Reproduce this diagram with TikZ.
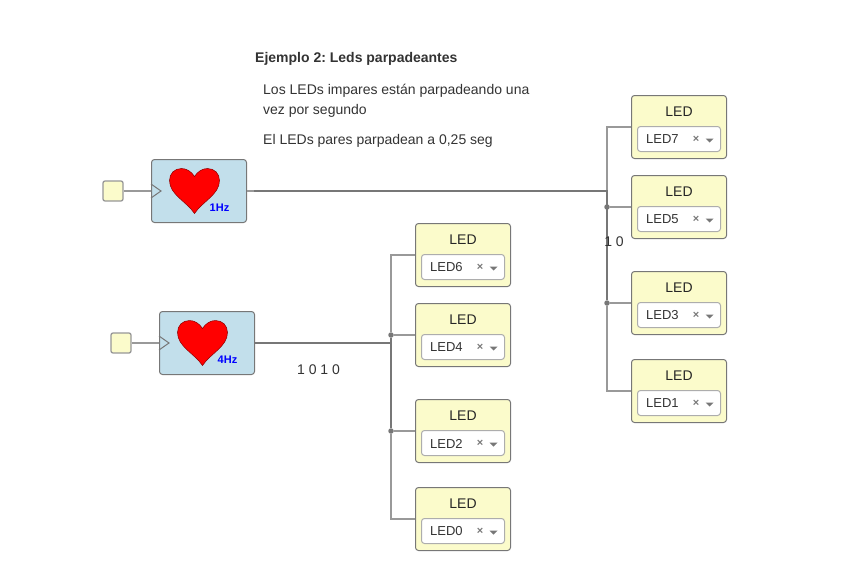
\documentclass[tikz,border=0pt]{standalone}
\usepackage{fontspec}
\setmainfont{Liberation Sans}
\usetikzlibrary{positioning}
\definecolor{boxline}{HTML}{777777}
\definecolor{ledfill}{HTML}{FBFBCB}
\definecolor{clkfill}{HTML}{C2DFEB}
\definecolor{wirea}{HTML}{999999}
\definecolor{wireb}{HTML}{777777}
\definecolor{inkgray}{HTML}{333333}
\tikzset{
  ledbox/.style={draw=boxline, line width=1pt, fill=ledfill, rounded corners=3pt, minimum width=95pt, minimum height=63pt, inner sep=0pt},
  selbox/.style={draw=wirea!80, line width=1pt, fill=white, rounded corners=3pt, minimum width=83pt, minimum height=25pt, inner sep=0pt},
  clkbox/.style={draw=boxline, line width=1pt, fill=clkfill, rounded corners=3pt, minimum width=95pt, minimum height=63pt, inner sep=0pt},
  inbox/.style={draw=wirea!70!black!70, line width=1.3pt, fill=ledfill, rounded corners=2pt, minimum size=20pt, inner sep=0pt},
  wire/.style={draw=wirea, line width=1.5pt},
  bus/.style={draw=wireb, line width=1.5pt},
  joint/.style={circle, fill=wireb, minimum size=5.5pt, inner sep=0pt},
  txt/.style={text=inkgray, font=\fontsize{14}{16}\selectfont, inner sep=0pt},
  freq/.style={text=blue, font=\fontsize{11}{12}\selectfont\bfseries, inner sep=0pt},
  heart/.pic={
    \draw[fill=red, draw=red!55!black, line width=.5pt]
    (0,8) .. controls (3,3) and (8,0) .. (13,0) .. controls (20,0) and (25,5) .. (25,12)
    .. controls (25,26) and (8,33) .. (0,45) .. controls (-8,33) and (-25,26) .. (-25,12)
    .. controls (-25,5) and (-20,0) .. (-13,0) .. controls (-8,0) and (-3,3) .. (0,8) -- cycle;
  }
}
% one LED block: name, centre x, centre y, selected label
\newcommand\ledblock[4]{
  \node[ledbox] (#1) at (#2,#3) {};
  \node[txt, text=black!85] at ([yshift=15.5pt]#1.center) {LED};
  \node[selbox, above=7pt of #1.south] (#1sel) {};
  \node[txt, anchor=west, font=\fontsize{13}{15}\selectfont] at ([xshift=9pt,yshift=-.5pt]#1sel.west) {#4};
  \node[txt, text=boxline, font=\fontsize{11}{12}\selectfont\bfseries] at ([xshift=17pt,yshift=-.5pt]#1sel.center) {×};
  \fill[boxline] ([xshift=26.5pt,yshift=.5pt]#1sel.center) -- ++(8,0) -- ++(-4,4) -- cycle;
}
% one clock block: name, centre x, centre y, frequency
\newcommand\clkblock[4]{
  \node[clkbox] (#1) at (#2,#3) {};
  \pic at ([xshift=-4.5pt,yshift=22.5pt]#1.center) {heart};
  \node[freq] at ([xshift=20.5pt,yshift=-16.5pt]#1.center) {#4};
  \draw[boxline, line width=1pt] ([yshift=7pt]#1.west) -- ([xshift=10pt]#1.west) -- ([yshift=-7pt]#1.west);
}
\begin{document}
\frenchspacing
\begin{tikzpicture}[x=1pt, y=-1pt]
\useasboundingbox (0,0) rectangle (847,565);
%texts
\node[txt, anchor=west, font=\fontsize{14}{16}\selectfont\bfseries] (title) at (255,58.5) {Ejemplo 2: Leds parpadeantes};
\node[txt, anchor=west] (line1) at (263,90.5) {Los LEDs impares están parpadeando una};
\node[txt, anchor=west] (line2) at (263,110.5) {vez por segundo};
\node[txt, anchor=west] (line3) at (263,140.5) {El LEDs pares parpadean a 0,25 seg};
%
%clocks
\clkblock{clka}{199}{191}{1Hz}
\clkblock{clkb}{207}{343}{4Hz}
\node[inbox] (ina) at (113,191) {};
\node[inbox] (inb) at (121,343) {};
%
%leds, right column
\ledblock{led7}{679}{127}{LED7}
\ledblock{led5}{679}{207}{LED5}
\ledblock{led3}{679}{303}{LED3}
\ledblock{led1}{679}{391}{LED1}
%leds, left column
\ledblock{led6}{463}{255}{LED6}
\ledblock{led4}{463}{335}{LED4}
\ledblock{led2}{463}{431}{LED2}
\ledblock{led0}{463}{519}{LED0}
%
%bus points
\coordinate (busa) at (607,191);
\coordinate (busb) at (391,343);
\node[joint] (j5) at (607,207) {};
\node[joint] (j3) at (607,303) {};
\node[joint] (j4) at (391,335) {};
\node[joint] (j2) at (391,431) {};
%
%wires
\draw[wire] (ina) -- (clka.west);
\draw[wire] (inb) -- (clkb.west);
\draw[wire] (led7.west) -| (busa);
\draw[wire] (led5.west) -- (j5);
\draw[wire] (led3.west) -- (j3);
\draw[wire] (led1.west) -| (j3);
\draw[wire] (led6.west) -| (j4);
\draw[wire] (led4.west) -- (j4);
\draw[wire] (led2.west) -- (j2);
\draw[wire] (led0.west) -| (j2);
\draw[bus] (clka.east) ++(7,0) -- (busa) -- (j3);
\draw[bus] (clkb.east) -- (busb);
\draw[bus] (j4) -- (j2);
\draw[wire] (clka.east) -- ++(7,0);
%
\node[txt] (bitsa) at (614,242) {1 0};
\node[txt] (bitsb) at (318.5,370) {1 0 1 0};
\end{tikzpicture}
\end{document}
